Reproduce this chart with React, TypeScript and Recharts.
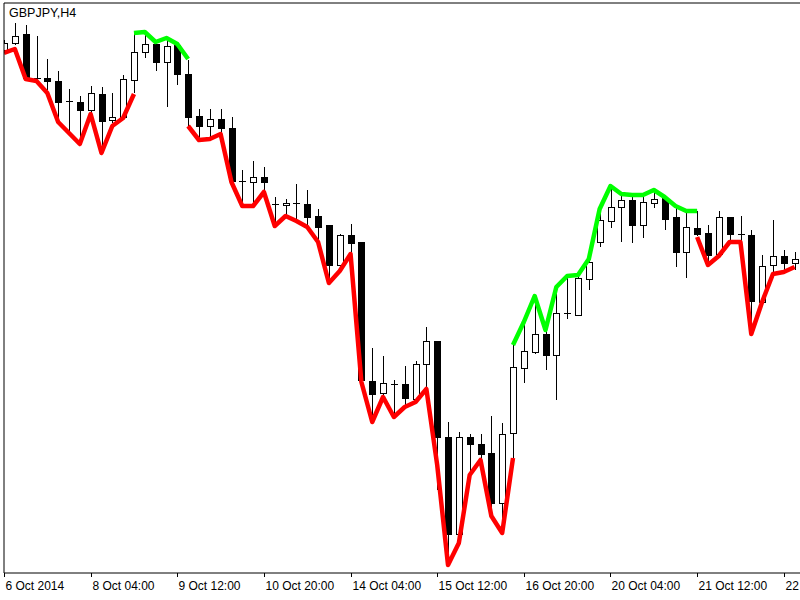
import { Bar, ComposedChart, Line, ReferenceLine, XAxis, YAxis } from "recharts";

// GBPJPY H4, one entry per bar (left to right)
const open = [
  176.5, 176.57, 176.66, 176.22, 176.22, 176.19, 175.99, 175.98, 175.9, 176.06,
  175.8, 175.83, 176.2, 176.48, 176.56, 176.38, 176.55, 176.26, 175.84, 175.74,
  175.81, 175.72, 175.19, 175.18, 175.23, 174.96, 174.95, 174.97, 174.96, 174.84,
  174.75, 174.35, 174.65, 174.58, 173.19, 173.07, 173.16, 173.16, 173.01, 173.36,
  173.59, 172.63, 171.66, 172.63, 172.56, 172.47, 171.97, 172.67, 173.32, 173.48,
  173.66, 173.45, 173.87, 173.85, 174.21, 174.58, 174.79, 174.93, 175.0, 174.75,
  174.97, 175.02, 174.83, 174.48, 174.72, 174.67, 174.46, 174.83, 174.66, 174.65,
  173.98, 174.35, 174.44, 174.37,
];
const high = [
  176.6, 176.77, 176.75, 176.64, 176.41, 176.29, 176.11, 176.04, 176.14, 176.13,
  176.07, 176.25, 176.68, 176.69, 176.56, 176.61, 176.58, 176.4, 175.91, 175.91,
  175.91, 175.83, 175.3, 175.39, 175.33, 175.03, 175.01, 175.16, 175.1, 174.91,
  174.75, 174.66, 174.76, 174.58, 173.52, 173.44, 173.2, 173.34, 173.39, 173.73,
  173.59, 172.78, 172.68, 172.66, 172.66, 172.84, 172.77, 173.55, 173.78, 174.04,
  173.69, 174.13, 174.24, 174.24, 174.41, 174.91, 175.14, 175.04, 175.04, 175.03,
  175.1, 175.03, 174.94, 174.89, 174.89, 174.75, 174.89, 174.83, 174.84, 174.7,
  174.45, 174.8, 174.5, 174.48,
];
const low = [
  176.48, 176.55, 176.22, 176.2, 176.1, 175.8, 175.68, 175.57, 175.87, 175.48,
  175.77, 175.83, 176.07, 176.42, 176.29, 175.93, 176.15, 175.73, 175.6, 175.62,
  175.67, 175.18, 174.95, 174.95, 175.08, 174.75, 174.85, 174.8, 174.73, 174.6,
  174.17, 174.28, 174.47, 173.19, 172.78, 173.03, 172.83, 172.93, 172.97, 173.11,
  172.1, 171.35, 171.57, 172.25, 172.4, 171.84, 171.68, 172.42, 173.17, 173.46,
  173.3, 173.0, 173.81, 173.84, 174.1, 174.53, 174.72, 174.58, 174.57, 174.62,
  174.92, 174.7, 174.33, 174.22, 174.64, 174.35, 174.44, 174.58, 174.58, 173.66,
  173.98, 174.26, 174.28, 174.3,
];
const close = [
  176.57, 176.64, 176.22, 176.22, 176.19, 175.98, 175.99, 175.9, 176.07, 175.79,
  175.83, 176.21, 176.48, 176.56, 176.38, 176.54, 176.26, 175.83, 175.74, 175.81,
  175.72, 175.19, 175.19, 175.23, 175.18, 174.96, 174.97, 174.97, 174.83, 174.73,
  174.35, 174.65, 174.57, 173.2, 173.06, 173.17, 173.16, 173.02, 173.36, 173.59,
  172.63, 171.66, 172.63, 172.56, 172.46, 171.97, 172.66, 173.33, 173.49, 173.66,
  173.45, 173.87, 173.87, 174.22, 174.38, 174.8, 174.93, 175.0, 174.75, 174.98,
  175.01, 174.81, 174.48, 174.73, 174.66, 174.45, 174.83, 174.66, 174.66, 173.99,
  174.34, 174.44, 174.37, 174.41,
];
// indicator: red line under price, green line over price
const lower = [
  176.47, 176.51, 176.21, 176.19, 176.07, 175.78, 175.67, 175.56, 175.86, 175.47,
  175.74, 175.82, 176.06, null, null, null, null, 175.74, 175.6, 175.61,
  175.66, 175.18, 174.94, 174.94, 175.08, 174.74, 174.84, 174.79, 174.73, 174.58,
  174.17, 174.29, 174.46, 173.18, 172.78, 173.03, 172.83, 172.93, 172.98, 173.11,
  172.35, 171.35, 171.57, 172.25, 172.4, 171.84, 171.67, 172.42, null, null,
  null, null, null, null, null, null, null, null, null, null,
  null, null, null, null, 174.63, 174.35, 174.44, 174.58, 174.58, 173.66,
  173.98, 174.26, 174.28, 174.33,
];
const upper = [
  null, null, null, null, null, null, null, null, null, null,
  null, null, 176.67, 176.68, 176.58, 176.62, 176.56, 176.41, null, null,
  null, null, null, null, null, null, null, null, null, null,
  null, null, null, null, null, null, null, null, null, null,
  null, null, null, null, null, null, null, 173.55, 173.78, 174.04,
  173.7, 174.13, 174.24, 174.25, 174.41, 174.91, 175.14, 175.06, 175.05, 175.05,
  175.1, 175.03, 174.94, 174.89, 174.89, null, null, null, null, null,
  null, null, null, null,
];
const tickBars = [0, 8, 16, 24, 32, 40, 48, 56, 64, 72];
// the last label is cut by the right edge in the original, only "22" shows
const tickLabels = [
  "6 Oct 2014", "8 Oct 04:00", "9 Oct 12:00", "10 Oct 20:00", "14 Oct 04:00",
  "15 Oct 12:00", "16 Oct 20:00", "20 Oct 04:00", "21 Oct 12:00", "22",
];

const data = open.map((o, i) => ({
  i,
  open: o,
  high: high[i],
  low: low[i],
  close: close[i],
  lower: lower[i],
  upper: upper[i],
}));

const FONT = '"Liberation Sans", Arial, sans-serif';

function Candle(props: any) {
  const { x, y, width, height, payload } = props;
  const top = Math.min(y, y + height);
  const bot = Math.max(y, y + height);
  const span = payload.high - payload.low || 1;
  const toY = (v: number) => top + ((payload.high - v) / span) * (bot - top);
  const cx = Math.round(x + width / 2);
  const yo = toY(payload.open);
  const yc = toY(payload.close);
  const bt = Math.round(Math.min(yo, yc));
  const bb = Math.round(Math.max(yo, yc));
  const up = payload.close > payload.open;
  return (
    <g>
      <line x1={cx + 0.5} x2={cx + 0.5} y1={Math.round(top)} y2={Math.round(bot)} stroke="#000" />
      {bb - bt < 1 ? (
        <line x1={cx - 3} x2={cx + 4} y1={bt + 0.5} y2={bt + 0.5} stroke="#000" />
      ) : (
        <rect x={cx - 2.5} y={bt + 0.5} width={6} height={bb - bt} fill={up ? "#fff" : "#000"} stroke="#000" />
      )}
    </g>
  );
}

function AxisTick(props: any) {
  const { x, y, payload } = props;
  const label = tickLabels[tickBars.indexOf(payload.value)];
  const px = Math.round(x) + 0.5;
  return (
    <g>
      <line x1={px} x2={px} y1={y} y2={y + 4} stroke="#000" />
      <text x={px + 1} y={y + 17} fontFamily={FONT} fontSize={12} fill="#000">
        {label}
      </text>
    </g>
  );
}

export default function App() {
  return (
    <div style={{ position: "fixed", left: 0, top: 0, width: 800, height: 600, overflow: "hidden", background: "#fff" }}>
      <ComposedChart width={800} height={600} data={data} margin={{ top: 3, right: 0, bottom: 0, left: 0 }}>
        <XAxis
          dataKey="i"
          type="number"
          domain={[0, 73.5]}
          allowDataOverflow
          ticks={tickBars}
          interval={0}
          tick={<AxisTick />}
          tickLine={false}
          tickSize={0}
          tickMargin={0}
          height={27}
          axisLine={{ stroke: "#000" }}
        />
        <YAxis
          domain={[171.27, 176.97]}
          allowDataOverflow
          width={4}
          tick={false}
          tickLine={false}
          axisLine={{ stroke: "#000" }}
        />
        <ReferenceLine y={176.97} stroke="#000" />
        <Bar dataKey={(d: any) => [d.low, d.high]} barSize={7} shape={<Candle />} isAnimationActive={false} />
        <Line
          type="linear"
          dataKey="lower"
          stroke="#ff0000"
          strokeWidth={4.5}
          strokeLinejoin="round"
          dot={false}
          activeDot={false}
          isAnimationActive={false}
        />
        <Line
          type="linear"
          dataKey="upper"
          stroke="#00ff00"
          strokeWidth={4.5}
          strokeLinejoin="round"
          dot={false}
          activeDot={false}
          isAnimationActive={false}
        />
      </ComposedChart>
      <div style={{ position: "absolute", left: 9, top: 7, fontFamily: FONT, fontSize: 12.5, lineHeight: 1, color: "#000" }}>
        GBPJPY,H4
      </div>
    </div>
  );
}
